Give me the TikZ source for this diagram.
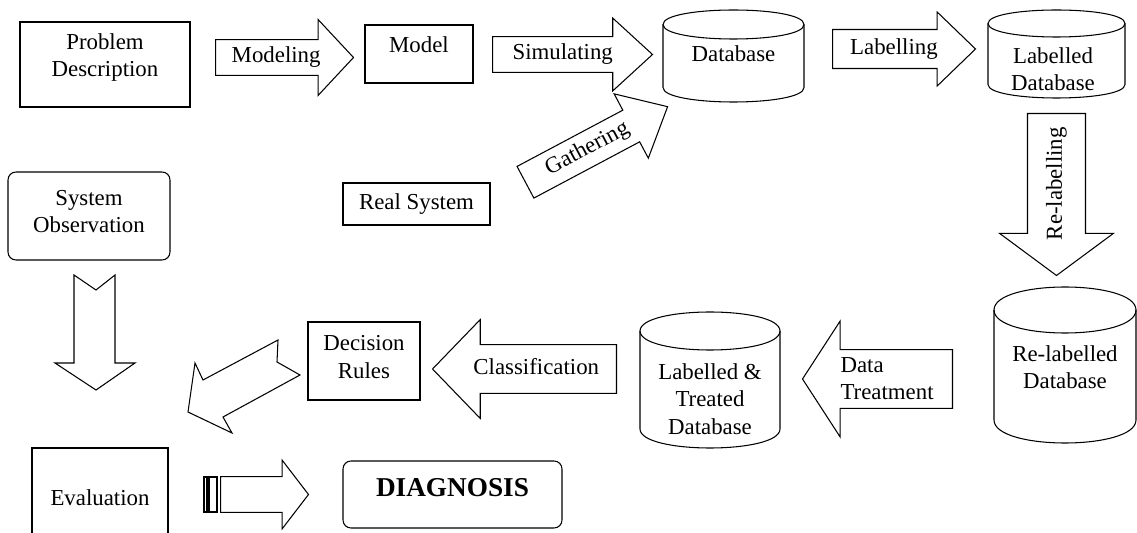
\documentclass[tikz,border=0pt]{standalone}
\usepackage{fontspec}
\setmainfont{Liberation Serif}
\usetikzlibrary{shapes.arrows}

\newcommand{\dgfont}{\fontsize{13}{15.5}\selectfont}
% drum outline: x left, x right, y top, y bottom, y radius
\newcommand{\dbdrum}[5]{%
  \draw[ln] (#1,#3+#5) .. controls (#1,#3-#5/3) and (#2,#3-#5/3) .. (#2,#3+#5)
    .. controls (#2,#3+#5*7/3) and (#1,#3+#5*7/3) .. cycle;
  \draw[ln] (#1,#3+#5) -- (#1,#4-#5) .. controls (#1,#4+#5/3) and (#2,#4+#5/3) .. (#2,#4-#5) -- (#2,#3+#5);}

\begin{document}
\begin{tikzpicture}[x=0.02cm,y=-0.02cm,
  ln/.style={line width=.6pt},
  box/.style={draw,ln,align=center,inner sep=0pt,font=\dgfont},
  rbox/.style={box,rounded corners=4.5pt},
  txt/.style={align=center,inner sep=0pt,font=\dgfont},
  arw/.style={single arrow,draw,ln,inner xsep=1pt,minimum width=0pt,font=\dgfont},
  blk/.style={arw,text height=9pt,text depth=3pt}]
  \useasboundingbox (0,0) rectangle (1137,533);
  % boxes
  \node[box,minimum width=3.4cm,minimum height=1.7cm] (prob) at (105,64.5)
    {Problem\\Description\rule[-11pt]{0pt}{0pt}};
  \node[box,minimum width=2.16cm,minimum height=1.16cm,text depth=10.2pt] (model) at (419,54) {Model};
  \node[box,minimum width=2.94cm,minimum height=0.84cm] (real) at (416.5,204) {Real System};
  \node[rbox,minimum width=3.24cm,minimum height=1.76cm] (obs) at (89,216)
    {System\\Observation\rule[-5.5pt]{0pt}{0pt}};
  \node[box,minimum width=2.24cm,minimum height=1.56cm] (rules) at (364,361)
    {Decision\\Rules\rule[-4.5pt]{0pt}{0pt}};
  \node[box,minimum width=2.72cm,minimum height=2cm] (eval) at (100,498) {Evaluation};
  \node[rbox,minimum width=4.38cm,minimum height=1.34cm,text depth=7.5pt,
    font=\fontsize{15.5}{18}\selectfont\bfseries] (diag) at (452.5,494.5) {DIAGNOSIS};
  % databases
  \dbdrum{663}{804}{10}{102}{14.5}
  \dbdrum{988}{1125}{10}{98}{13.5}
  \dbdrum{994}{1136}{287}{443}{23}
  \dbdrum{640}{780}{312}{448}{19}
  \node[txt] (db) at (733.5,54) {Database};
  \node[txt] (ldb) at (1053,69) {Labelled\\Database};
  \node[txt] (rdb) at (1065,367) {Re-labelled\\Database};
  \node[txt] (tdb) at (710,399) {Labelled \&\\Treated\\Database};
  % block arrows
  \node[blk,anchor=tail,minimum height=2.76cm,inner ysep=3.9pt,
    single arrow head extend=.4cm,single arrow tip angle=94] (modeling) at (215,57.5) {Modeling};
  \node[blk,anchor=tail,minimum height=3.2cm,inner ysep=3.9pt,
    single arrow head extend=.37cm,single arrow tip angle=85] (simul) at (492,54.5) {Simulating};
  \node[blk,anchor=tail,minimum height=2.86cm,inner ysep=4.8pt,
    single arrow head extend=.35cm,single arrow tip angle=88] (labelling) at (832,49) {Labelling};
  \node[blk,anchor=tail,rotate=28,minimum height=3.22cm,inner ysep=3.9pt,
    single arrow head extend=.37cm,single arrow tip angle=83] (gather) at (525,182.5) {Gathering};
  \node[blk,anchor=tail,rotate=90,shape border rotate=180,minimum height=3.24cm,inner ysep=10.2pt,
    single arrow head extend=.56cm,single arrow tip angle=107] (relab) at (1056.5,113) {Re-labelling};
  \node[arw,anchor=tail,shape border rotate=180,align=left,minimum height=3cm,inner ysep=4.4pt,
    single arrow head extend=.57cm,single arrow tip angle=114] (treat) at (953,379) {Data\\Treatment};
  \node[blk,anchor=tail,shape border rotate=180,minimum height=3.68cm,inner ysep=7.6pt,
    single arrow head extend=.5cm,single arrow tip angle=92] (classif) at (617,369) {Classification};
  \node[blk,anchor=tail,minimum height=1.76cm,inner xsep=0pt,inner ysep=3.9pt,
    single arrow head extend=.33cm,single arrow tip angle=105] (toDiag) at (220,494.5) {};
  \draw[ln] (204,477) rectangle (207,512) (209,477) rectangle (217,512);
  % notched arrows
  \draw[ln] (74,275) -- (96,290) -- (115,275) -- (115,363) -- (135,363) -- (96,390)
    -- (55,363) -- (74,363) -- cycle;
  \draw[ln] (278,340) -- (277,362) -- (300,375) -- (223,417) -- (232,433) -- (188,412)
    -- (195,363) -- (203,380) -- cycle;
\end{tikzpicture}
\end{document}
